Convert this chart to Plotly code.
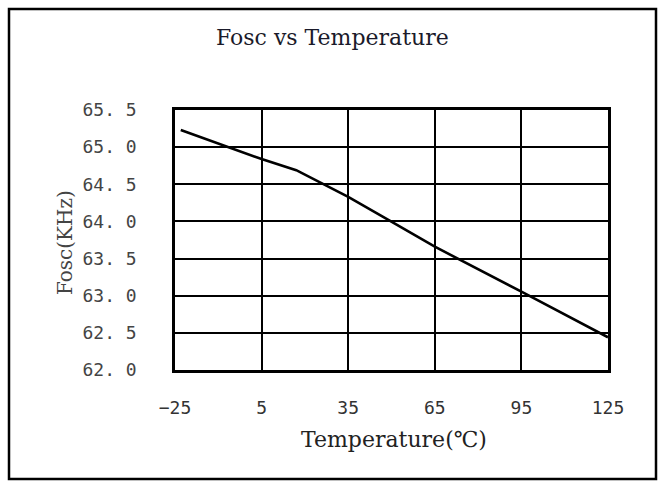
import plotly.graph_objects as go

# Data
temperature_c = [-23, 5, 17, 26, 35, 48, 65, 95, 125]
fosc_khz = [65.23, 64.84, 64.69, 64.51, 64.33, 64.04, 63.66, 63.055, 62.44]

x_tick_vals = [-25, 5, 35, 65, 95, 125]
x_tick_text = ["\u221225", "5", "35", "65", "95", "125"]
y_tick_vals = [62.0, 62.5, 63.0, 63.5, 64.0, 64.5, 65.0, 65.5]
y_tick_text = ["62. 0", "62. 5", "63. 0", "63. 5", "64. 0", "64. 5", "65. 0", "65. 5"]

W, H = 661, 483
L, T = 175, 110
R = W - 608
B = H - 370
pw, ph = W - L - R, H - T - B

def px_x(px):
    return (px - L) / pw

def px_y(py):
    return (H - B - py) / ph

serif = "DejaVu Serif"
mono = "DejaVu Sans Mono"

fig = go.Figure()
fig.add_trace(go.Scatter(
    x=temperature_c, y=fosc_khz, mode="lines",
    line=dict(color="black", width=2.6), showlegend=False,
))

fig.update_layout(
    width=W, height=H,
    margin=dict(l=L, r=R, t=T, b=B, pad=0),
    paper_bgcolor="white", plot_bgcolor="white",
    xaxis=dict(
        range=[-25, 125], tickvals=x_tick_vals, ticktext=x_tick_text,
        showgrid=True, gridcolor="black", gridwidth=2,
        showline=True, linecolor="black", linewidth=2.5, mirror=True,
        zeroline=False, ticks="", ticklabelstandoff=20,
        tickfont=dict(family=mono, size=18, color="#333333"),
    ),
    yaxis=dict(
        range=[62.0, 65.5], tickvals=y_tick_vals, ticktext=y_tick_text,
        showgrid=True, gridcolor="black", gridwidth=2,
        showline=True, linecolor="black", linewidth=2.5, mirror=True,
        zeroline=False, ticks="", ticklabelstandoff=32,
        tickfont=dict(family=mono, size=18, color="#444444"),
    ),
    annotations=[
        dict(text="Fosc vs Temperature", xref="paper", yref="paper",
             x=px_x(332), y=px_y(37), xanchor="center", yanchor="middle",
             showarrow=False, font=dict(family=serif, size=22, color="#1a1a2a")),
        dict(text="Temperature(\u2103)", xref="paper", yref="paper",
             x=px_x(394), y=px_y(439), xanchor="center", yanchor="middle",
             showarrow=False, font=dict(family=serif, size=22, color="#222222")),
        dict(text="Fosc(KHz)", xref="paper", yref="paper", textangle=-90,
             x=px_x(65), y=px_y(242), xanchor="center", yanchor="middle",
             showarrow=False, font=dict(family=serif, size=20, color="#444444")),
    ],
)

# outer frame around the whole chart
fig.add_shape(type="rect", xref="paper", yref="paper",
              x0=px_x(9), x1=px_x(656),
              y0=px_y(479), y1=px_y(9),
              line=dict(color="black", width=2.5), fillcolor="rgba(0,0,0,0)",
              layer="below")

fig.write_html(
    "out.html",
    config={"displayModeBar": False},
    post_script="document.body.style.margin='0';document.body.style.overflow='hidden';",
)
